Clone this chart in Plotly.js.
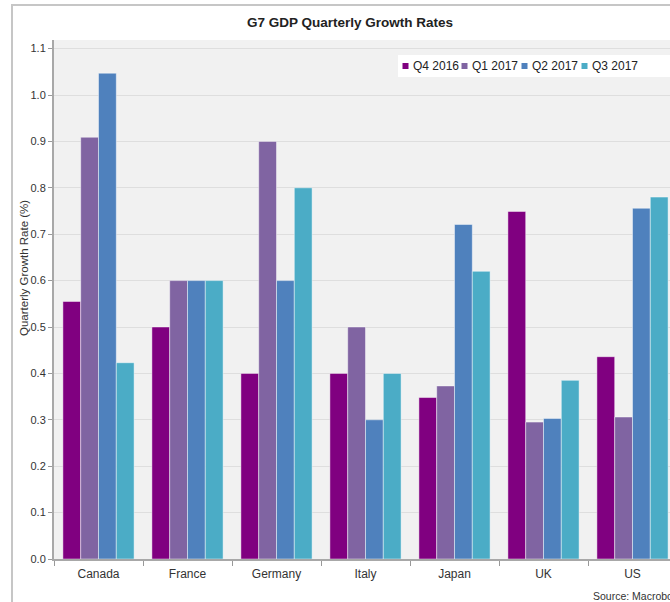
<!DOCTYPE html>
<html>
<head>
<meta charset="utf-8">
<script src="https://cdn.plot.ly/plotly-3.0.1.min.js"></script>
<style>
  html, body { margin: 0; padding: 0; background: #fff; overflow: hidden; width: 670px; height: 602px; }
  #wrap { position: relative; width: 670px; height: 602px; overflow: hidden; }
  #chart { position: absolute; left: 0; top: 0; width: 700px; height: 602px; }
  #frame { position: absolute; left: 11px; top: 4px; width: 700px; height: 700px; border: 2px solid #c6c6c6; pointer-events: none; }
</style>
</head>
<body>
<div id="wrap">
  <div id="chart"></div>
  <div id="frame"></div>
</div>
<script>
// ---- data ----
const countries = ["Canada", "France", "Germany", "Italy", "Japan", "UK", "US"];
const seriesNames = ["Q4 2016", "Q1 2017", "Q2 2017", "Q3 2017"];
const q4_2016 = [0.555, 0.50, 0.40, 0.40, 0.348, 0.749, 0.436];
const q1_2017 = [0.909, 0.60, 0.90, 0.50, 0.373, 0.295, 0.306];
const q2_2017 = [1.047, 0.60, 0.60, 0.30, 0.721, 0.303, 0.756];
const q3_2017 = [0.423, 0.60, 0.80, 0.40, 0.620, 0.385, 0.780];
const yTicks = [0.0, 0.1, 0.2, 0.3, 0.4, 0.5, 0.6, 0.7, 0.8, 0.9, 1.0, 1.1];
const titleText = "G7 GDP Quarterly Growth Rates";
const yTitleText = "Quarterly Growth Rate (%)";
const sourceText = "Source: Macrobond";

// ---- styling ----
const colors = ["#800080", "#8064a2", "#4f81bd", "#4bacc6"];
const W = 700, H = 602;
const L = 54, R = 677, T = 40, B = 559;
const px = x => (x - L) / (R - L);
const py = y => (B - y) / (B - T);
const font = "Liberation Sans, Arial, sans-serif";
const txt = "#333333";

const allSeries = [q4_2016, q1_2017, q2_2017, q3_2017];
const traces = allSeries.map((vals, i) => ({
  type: "bar",
  name: seriesNames[i],
  x: countries,
  y: vals,
  marker: { color: colors[i], line: { color: "rgba(255,255,255,0.45)", width: 1 } },
  hoverinfo: "x+y+name"
}));

// custom legend (small squares like the reference)
const legendX = [402.5, 461.5, 521.5, 581.5];
const shapes = [
  { type: "rect", xref: "paper", yref: "paper", x0: px(398), x1: px(680), y0: py(77), y1: py(55),
    fillcolor: "#ffffff", line: { width: 0 }, layer: "above" }
];
const annotations = [];
seriesNames.forEach((n, i) => {
  shapes.push({ type: "rect", xref: "paper", yref: "paper",
    x0: px(legendX[i]), x1: px(legendX[i] + 6), y0: py(69), y1: py(63),
    fillcolor: colors[i], line: { width: 0 }, layer: "above" });
  annotations.push({ xref: "paper", yref: "paper", x: px(legendX[i] + 8.5), y: py(66),
    xanchor: "left", yanchor: "middle", showarrow: false, text: n,
    font: { family: font, size: 12, color: "#222" } });
});
annotations.push({ xref: "paper", yref: "paper", x: px(24), y: py(268), textangle: -90,
  xanchor: "center", yanchor: "middle", showarrow: false, text: yTitleText,
  font: { family: font, size: 11.5, color: txt } });
annotations.push({ xref: "paper", yref: "paper", x: px(591), y: py(596),
  xanchor: "left", yanchor: "middle", showarrow: false, text: sourceText,
  font: { family: font, size: 10.5, color: txt } });

const layout = {
  width: W, height: H,
  margin: { l: L, r: W - R, t: T, b: H - B, pad: 0 },
  paper_bgcolor: "#ffffff",
  plot_bgcolor: "#f1f1f1",
  showlegend: false,
  barmode: "group",
  bargap: 0.2,
  bargroupgap: 0,
  title: { text: "<b>" + titleText + "</b>", x: 0.5, xref: "container", y: 1 - 22 / H, yref: "container",
    yanchor: "middle", font: { family: font, size: 13.5, color: "#222" } },
  xaxis: {
    type: "category",
    tickson: "boundaries",
    ticks: "outside", ticklen: 5, tickcolor: "#999", tickwidth: 1,
    showline: true, linecolor: "#a8a8a8", linewidth: 1.5,
    showgrid: false, zeroline: false,
    ticklabelstandoff: 3,
    tickfont: { family: font, size: 12, color: txt }
  },
  yaxis: {
    range: [0, (B - T) / 464],
    tickvals: yTicks,
    ticktext: yTicks.map(v => v.toFixed(1)),
    ticks: "outside", ticklen: 4, tickcolor: "#999", tickwidth: 1,
    showline: true, linecolor: "#a8a8a8", linewidth: 2,
    showgrid: true, gridcolor: "#dedede", gridwidth: 1,
    zeroline: false,
    tickfont: { family: font, size: 11, color: txt }
  },
  shapes: shapes,
  annotations: annotations
};

Plotly.newPlot("chart", traces, layout, { staticPlot: true, displayModeBar: false });
</script>
</body>
</html>
